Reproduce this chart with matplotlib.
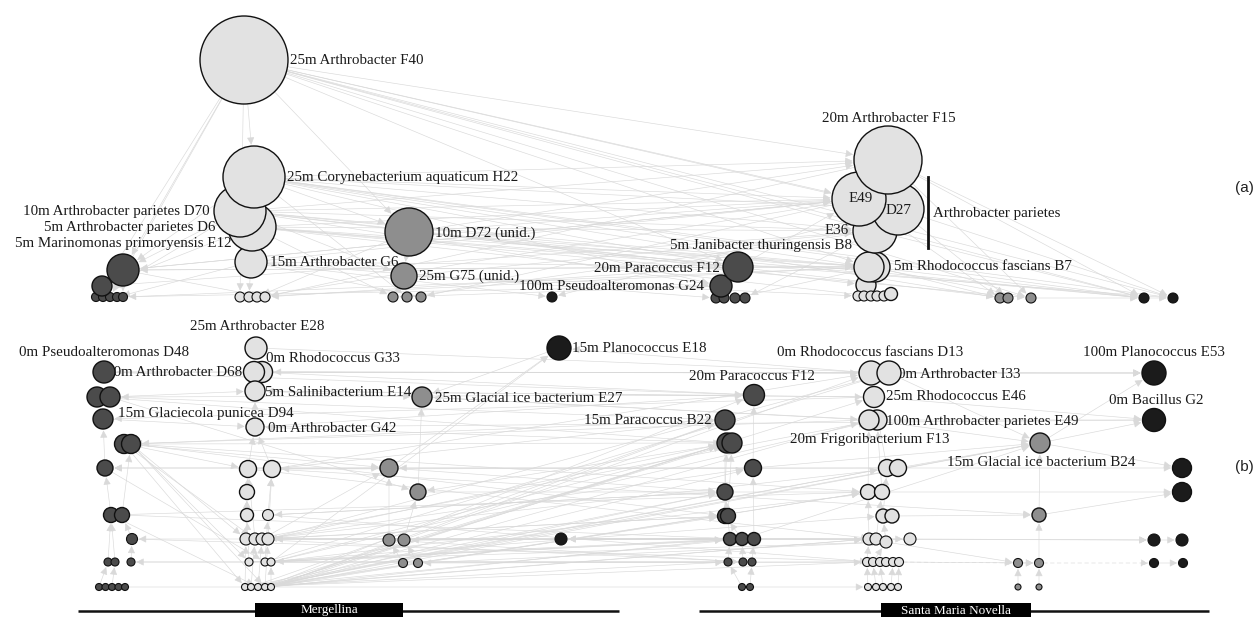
import matplotlib
matplotlib.use("Agg")
import matplotlib.pyplot as plt
from matplotlib.patches import Circle, FancyArrowPatch, Rectangle

# ---------------------------------------------------------------------------
# Node tables (pixel layout of the network, y grows downwards)
# Prefix: a = panel (a), upper-case; panel (b) lower-case.
# M = Mergellina, S = Santa Maria Novella; A/L = Actinobacteria,
# P = Proteobacteria, U = unidentified/other, F = Firmicutes
# ---------------------------------------------------------------------------

# ---- panel (a) ----
aMA_x = [240, 249, 257, 265, 251, 252, 240, 254, 244]
aMA_y = [297, 297, 297, 297, 262, 227, 211, 177, 60]
aMA_r = [5, 5, 5, 5, 16, 24, 26, 31, 44]

aMP_x = [96, 103, 110, 117, 123, 102, 123]
aMP_y = [297, 297, 297, 297, 297, 286, 270]
aMP_r = [4.5, 4.5, 4.5, 4.5, 4.5, 10, 16]

aMU_x = [393, 407, 421, 404, 409]
aMU_y = [297, 297, 297, 276, 232]
aMU_r = [5, 5, 5, 13, 24]

aMF_x = [552]
aMF_y = [297]
aMF_r = [5]

aSP_x = [716, 724, 735, 745, 721, 738]
aSP_y = [298, 298, 298, 298, 286, 267]
aSP_r = [5, 5, 5, 5, 11, 15]

aSA_x = [866, 858, 864, 871, 877, 884, 891, 875, 869, 875, 898, 859, 888]
aSA_y = [285, 296, 296, 296, 296, 296, 294, 267, 267, 231, 209, 199, 160]
aSA_r = [10, 5, 5, 5, 5, 5, 6.5, 15, 15, 22, 26, 27, 34]

aSU_x = [1000, 1008, 1031]
aSU_y = [298, 298, 298]
aSU_r = [5, 5, 5]

aSF_x = [1144, 1173]
aSF_y = [298, 298]
aSF_r = [5, 5]

# ---- panel (b) ----
mp_x = [104, 97, 110, 103, 124, 131, 105, 111, 122, 132, 108, 115, 131, 99, 105.5, 112, 118.5, 125]
mp_y = [372, 397, 397, 419, 444, 444, 468, 515, 515, 539, 562, 562, 562, 587, 587, 587, 587, 587]
mp_r = [11, 10, 10, 10, 9.5, 9.5, 8, 7.5, 7.5, 5.5, 4, 4, 4, 3.5, 3.5, 3.5, 3.5, 3.5]

ml_x = [256, 262, 254, 255, 255, 248, 272, 247, 247, 268, 246, 255, 262, 268, 249, 265, 271,
        245, 251, 258, 265, 271]
ml_y = [348, 372, 372, 391, 427, 469, 469, 492, 515, 515, 539, 539, 539, 539, 562, 562, 562,
        587, 587, 587, 587, 587]
ml_r = [11, 10.5, 10.5, 10, 9, 8.5, 8.5, 7.5, 6.5, 5.5, 6, 6, 6, 6, 4, 4, 4,
        3.5, 3.5, 3.5, 3.5, 3.5]

mu_x = [422, 389, 418, 389, 404, 403, 418]
mu_y = [397, 468, 492, 540, 540, 563, 563]
mu_r = [10, 9, 8, 6, 6, 4.5, 4.5]

mf_x = [559, 561]
mf_y = [348, 539]
mf_r = [12, 6]

sp_x = [754, 725, 727, 732, 753, 725, 725, 728, 730, 742, 754, 728, 743, 752, 742, 750]
sp_y = [395, 420, 443, 443, 468, 492, 516, 516, 539, 539, 539, 562, 562, 562, 587, 587]
sp_r = [10.5, 10, 10, 10, 8.5, 8, 7.5, 7.5, 6.5, 6.5, 6.5, 4, 4, 4, 3.5, 3.5]

sl_x = [871, 889, 874, 877, 869, 887, 898, 868, 882, 883, 892, 869, 876, 886, 910,
        867, 873, 880, 886, 893, 899, 868, 876, 883, 891, 898]
sl_y = [373, 373, 397, 420, 420, 468, 468, 492, 492, 516, 516, 539, 539, 542, 539,
        562, 562, 562, 562, 562, 562, 587, 587, 587, 587, 587]
sl_r = [12, 12, 10.5, 10, 10, 8.5, 8.5, 7.5, 7.5, 7, 7, 6, 6, 6, 6,
        4.5, 4.5, 4.5, 4.5, 4.5, 4.5, 3.5, 3.5, 3.5, 3.5, 3.5]

su_x = [1040, 1039, 1018, 1039, 1018, 1039]
su_y = [443, 515, 563, 563, 587, 587]
su_r = [10, 7, 4.5, 4.5, 3, 3]

sf_x = [1154, 1154, 1182, 1182, 1154, 1182, 1154, 1183]
sf_y = [373, 420, 468, 492, 540, 540, 563, 563]
sf_r = [12, 11.5, 9.5, 9.5, 6, 6, 4.5, 4.5]

# ---- directed edges (source>target) ----
a_edges = [
    "aMA8>aMA7", "aMA8>aMP6", "aMA8>aMP5", "aMA8>aMP2", "aMA8>aSA12", "aMA8>aSA11", "aMA8>aSA10",
    "aMA8>aSF0", "aMA8>aSF1", "aMA8>aSU2", "aMA8>aMU4", "aMA8>aSA8", "aMA8>aMA0", "aMA8>aSP5",
    "aMA8>aSA9",
    "aMA7>aSA11", "aMA7>aSA12", "aMA7>aSA9", "aMA7>aSF1", "aMA7>aSF0", "aMA7>aSU0", "aMA7>aMU4",
    "aMA7>aSP5", "aMA7>aMP6", "aMA7>aSA8", "aMA7>aMU1", "aMA7>aSA10", "aMA7>aSP4",
    "aMA6>aSA11", "aMA6>aSA9", "aMA6>aSP4", "aMA6>aSU1", "aMA6>aSF0", "aMA6>aMP6", "aMA6>aMP0",
    "aMA6>aMU3", "aMA6>aSA0", "aMA6>aSA12", "aMA6>aSA8",
    "aMA5>aSA9", "aMA5>aSA8", "aMA5>aSP5", "aMA5>aSU2", "aMA5>aMP5", "aMA5>aMU0", "aMA5>aSA3",
    "aMA5>aSA11", "aMA5>aSF1",
    "aMA4>aMA1", "aMA4>aSA7", "aMA4>aSP0", "aMA4>aMU2", "aMA4>aMF0", "aMA4>aMP3", "aMA4>aSA11",
    "aMU4>aMU3", "aMU4>aSA11", "aMU4>aSA12", "aMU4>aSP5", "aMU4>aSA8", "aMU4>aMA2", "aMU4>aSF0",
    "aMU3>aSP4", "aMU3>aMU1", "aMU3>aSA1", "aMU3>aSA9",
    "aMP6>aMP4", "aMP6>aSA11", "aMP6>aMA3", "aMP5>aMP1", "aMP6>aSA8",
    "aSA12>aSF1", "aSA12>aSF0", "aSA12>aSU2", "aSA12>aMA3", "aSA11>aSU0", "aSA11>aMA2",
    "aSA11>aMU2", "aSA11>aMP6", "aSA10>aSF1", "aSA10>aSU1", "aSA10>aMF0", "aSA9>aSF0",
    "aSA9>aMU1", "aSA9>aMP5", "aSA9>aSP3", "aSA8>aSU2", "aSA8>aMA1", "aSA8>aSF0", "aSA7>aSU0",
    "aSA7>aMP4", "aSA7>aSP2",
    "aSP5>aSP1", "aSP5>aMA3", "aSP5>aMP6", "aSP5>aSA8", "aSP4>aSP0", "aSP4>aMU0", "aSP4>aMP2",
    "aSP5>aSA11",
    "aSU0>aSU1", "aSU2>aSF0", "aSF0>aSF1",
]

b_edges = [
    # within-site columns
    "ml17>ml10", "ml18>ml11", "ml19>ml12", "ml20>ml13", "ml21>ml16", "ml14>ml8", "ml15>ml9",
    "ml10>ml7", "ml8>ml7", "ml11>ml5", "ml13>ml6", "ml7>ml5", "ml5>ml4", "ml6>ml4", "ml4>ml3",
    "ml3>ml2", "ml2>ml0", "ml9>ml6",
    "mp13>mp10", "mp15>mp11", "mp10>mp7", "mp7>mp6", "mp6>mp3", "mp12>mp9", "mp9>mp8",
    "mp8>mp5", "mp3>mp1", "mp11>mp7",
    "mu5>mu3", "mu6>mu4", "mu3>mu1", "mu4>mu2", "mu2>mu0",
    # Mergellina Actinobacteria towards Santa Maria Novella
    "ml21>sp1", "ml21>sp2", "ml21>sp4", "ml21>sl0", "ml21>sl4", "ml21>sp8", "ml21>sl7", "ml21>su0",
    "ml20>sp5", "ml20>sl2", "ml20>sl7", "ml20>sp0", "ml20>sl11", "ml20>sp3",
    "ml19>sp6", "ml19>sl11", "ml19>su0", "ml19>sl5", "ml19>sp2",
    "ml18>sp9", "ml18>sl5", "ml18>sp1", "ml17>sp11", "ml17>sl15", "ml17>sp5",
    "ml16>sp3", "ml16>sl8", "ml16>sp10", "ml16>sl3", "ml16>mf0",
    "ml15>sl9", "ml15>sp12", "ml15>sl1", "ml14>sl13", "ml14>sp8",
    "ml13>sp2", "ml13>sl1", "ml13>sl12", "ml12>sp4", "ml12>mu1", "ml12>sl6", "ml11>sl3",
    "ml11>sp7", "ml10>sp13", "ml10>sl14",
    "ml9>sl16", "ml9>sp5", "ml6>sl0", "ml6>sp1", "ml6>su1", "ml5>mu1", "ml5>sl12", "ml4>sp0",
    "ml4>sf1", "ml3>mu0", "ml3>sl2", "ml1>sl0", "ml1>sf0", "ml0>sl1",
    # Mergellina Proteobacteria
    "mp4>ml5", "mp5>ml10", "mp5>ml14", "mp5>sp3", "mp5>sl7", "mp5>sp6", "mp4>mu1", "mp4>ml11",
    "mp2>ml3", "mp2>sp1", "mp0>ml2", "mp3>ml4", "mp6>ml15", "mp8>sp9", "mp9>sl18", "mp12>sp12",
    "mp16>sl21", "mp5>ml20", "mp4>ml17", "mp7>ml19", "mp2>mu2", "mp0>sp0",
    # links pointing back to Mergellina
    "sl0>mp0", "sp0>mp2", "sl2>mp3", "sp1>mp5", "sl4>mp4", "sp4>mp6", "sl7>mp7", "sp8>mp9",
    "sl15>mp12", "mu1>mp6", "sp2>mp1",
    "sp0>ml2", "sl0>ml1", "sl2>ml3", "sp2>ml4", "sl5>ml6", "sp5>ml9", "sl11>ml13", "mf1>ml13",
    "sp9>ml16", "sp6>ml12",
    "sl3>mu0", "sp3>mu2", "sl6>mu1", "sp10>mu4", "sl20>mu6", "mu1>mf0", "sl0>mf0", "sl14>mf1",
    "sp9>mf1", "mf0>mu0",
    # within Santa Maria Novella
    "sl21>sl15", "sl22>sl16", "sl23>sl17", "sl24>sl19", "sl25>sl20", "sl15>sl11", "sl11>sl7",
    "sl7>sl4", "sl9>sl5", "sl5>sl2", "sl12>sl8", "sl13>sl9", "sl16>sl13", "sl8>sl3", "sl2>sl0",
    "sp14>sp11", "sp15>sp13", "sp11>sp8", "sp8>sp5", "sp5>sp2", "sp9>sp6", "sp12>sp9",
    "sp13>sp10", "sp10>sp4", "sp4>sp0", "sp6>sp1", "sp7>sp3",
    "su4>su2", "su5>su3", "su3>su1", "su1>su0",
    "sl0>sf0", "sl1>sf0", "sl2>sf1", "sl4>sf1", "su0>sf1", "sl6>sf2", "sl8>sf3", "su0>sf2",
    "sl14>sf4", "sp10>sf4", "su1>sf3", "su0>sf0", "sf4>sf5", "sf6>sf7", "su2>su3",
    "sl4>su0", "sl10>su1", "sl13>su2", "sp9>su0", "sl6>su0", "sl19>su3", "sp4>su0", "sl1>su0",
    "mu1>sp5", "mu2>sl8", "mu0>sl4", "mu4>sp9", "mu3>sp12", "mu6>sl13", "mf1>sp10",
]
b_dashed = ["su3>sf6", "sl20>su2"]

# ---- node labels: text, anchor x, anchor y, alignment ----
a_labels = [
    ("25m Arthrobacter F40", 290, 60, "left"),
    ("25m Corynebacterium aquaticum H22", 287, 178, "left"),
    ("10m Arthrobacter parietes D70", 210, 211, "right"),
    ("5m Arthrobacter parietes D6", 44, 227, "left"),
    ("5m Marinomonas primoryensis E12", 15, 243, "left"),
    ("15m Arthrobacter G6", 270, 262, "left"),
    ("10m D72 (unid.)", 435, 233, "left"),
    ("25m G75 (unid.)", 419, 276, "left"),
    ("20m Paracoccus F12", 720, 268, "right"),
    ("100m Pseudoalteromonas G24", 519, 287, "left"),
    ("5m Janibacter thuringensis B8", 670, 246, "left"),
    ("20m Arthrobacter F15", 889, 118, "center"),
    ("E36", 849, 230, "right"),
    ("Arthrobacter parietes", 933, 213, "left"),
    ("5m Rhodococcus fascians B7", 894, 267, "left"),
]
a_inner_labels = [("E49", 861, 199), ("D27", 898, 210)]

b_labels = [
    ("25m Arthrobacter E28", 257, 327, "center"),
    ("0m Pseudoalteromonas D48", 19, 353, "left"),
    ("0m Rhodococcus G33", 266, 358, "left"),
    ("10m Arthrobacter D68", 106, 373, "left"),
    ("5m Salinibacterium E14", 265, 393, "left"),
    ("25m Glacial ice bacterium E27", 435, 399, "left"),
    ("15m Glaciecola punicea D94", 118, 414, "left"),
    ("0m Arthrobacter G42", 268, 429, "left"),
    ("15m Planococcus E18", 572, 349, "left"),
    ("0m Rhodococcus fascians D13", 870, 352, "center"),
    ("0m Arthrobacter I33", 898, 374, "left"),
    ("20m Paracoccus F12", 752, 377, "center"),
    ("25m Rhodococcus E46", 886, 397, "left"),
    ("100m Arthrobacter parietes E49", 886, 421, "left"),
    ("20m Frigoribacterium F13", 870, 440, "center"),
    ("15m Glacial ice bacterium B24", 1041, 463, "center"),
    ("15m Paracoccus B22", 712, 420, "right"),
    ("100m Planococcus E53", 1154, 353, "center"),
    ("0m Bacillus G2", 1156, 401, "center"),
]

sites = ["Mergellina", "Santa Maria Novella"]
site_line = [(78, 619), (699, 1209)]
site_box = [(255, 403), (881, 1031)]

# ---------------------------------------------------------------------------
FILL = {"act": "#e2e2e2", "pro": "#4b4b4b", "unid": "#8e8e8e", "fir": "#1b1b1b"}
SERIF = ["Liberation Serif", "DejaVu Serif"]
PT = 0.72  # points per pixel at dpi=100

clusters = [
    ("aMA", "act", aMA_x, aMA_y, aMA_r), ("aMP", "pro", aMP_x, aMP_y, aMP_r),
    ("aMU", "unid", aMU_x, aMU_y, aMU_r), ("aMF", "fir", aMF_x, aMF_y, aMF_r),
    ("aSP", "pro", aSP_x, aSP_y, aSP_r), ("aSA", "act", aSA_x, aSA_y, aSA_r),
    ("aSU", "unid", aSU_x, aSU_y, aSU_r), ("aSF", "fir", aSF_x, aSF_y, aSF_r),
    ("mp", "pro", mp_x, mp_y, mp_r), ("ml", "act", ml_x, ml_y, ml_r),
    ("mu", "unid", mu_x, mu_y, mu_r), ("mf", "fir", mf_x, mf_y, mf_r),
    ("sp", "pro", sp_x, sp_y, sp_r), ("sl", "act", sl_x, sl_y, sl_r),
    ("su", "unid", su_x, su_y, su_r), ("sf", "fir", sf_x, sf_y, sf_r),
]
nodes = {}
for prefix, grp, xs, ys, rs in clusters:
    for i, (x, y, r) in enumerate(zip(xs, ys, rs)):
        nodes[f"{prefix}{i}"] = (x, y, r, grp)

fig = plt.figure(figsize=(12.59, 6.17), dpi=100)
ax = fig.add_axes([0, 0, 1, 1])
ax.set_xlim(0, 1259)
ax.set_ylim(617, 0)
ax.axis("off")


def draw_edge(spec, dashed=False):
    s, t = spec.split(">")
    x1, y1, r1, _ = nodes[s]
    x2, y2, r2, _ = nodes[t]
    arr = FancyArrowPatch((x1, y1), (x2, y2),
                          arrowstyle="-|>,head_length=0.5,head_width=0.25",
                          mutation_scale=9, shrinkA=r1 * PT, shrinkB=r2 * PT + 1,
                          lw=0.45, color="#d9d9d9",
                          linestyle=(0, (6, 5)) if dashed else "-", zorder=1)
    ax.add_patch(arr)


for e in a_edges + b_edges:
    draw_edge(e)
for e in b_dashed:
    draw_edge(e, dashed=True)

for prefix, grp, xs, ys, rs in clusters:
    for x, y, r in zip(xs, ys, rs):
        ax.add_patch(Circle((x, y), r, facecolor=FILL[grp], edgecolor="#111111",
                            lw=1.0 if r > 6 else 0.8, zorder=3))

for text, x, y, ha in a_labels + b_labels:
    ax.text(x, y, text, ha=ha, va="center", fontsize=10.8, family=SERIF,
            color="#1a1a1a", zorder=2)
for text, x, y in a_inner_labels:
    ax.text(x, y, text, ha="center", va="center", fontsize=10.8, family=SERIF,
            color="#1a1a1a", zorder=4)

# bracket grouping the Arthrobacter parietes isolates
ax.plot([928, 928], [177, 248], color="#111111", lw=2, zorder=2)

ax.text(1254, 188, "(a)", ha="right", va="center", fontsize=11,
        family=["Liberation Sans", "DejaVu Sans"], color="#222222")
ax.text(1254, 467, "(b)", ha="right", va="center", fontsize=11,
        family=["Liberation Sans", "DejaVu Sans"], color="#222222")

for name, (l0, l1), (b0, b1) in zip(sites, site_line, site_box):
    ax.plot([l0, l1], [611, 611], color="#111111", lw=1.8, solid_capstyle="butt", zorder=2)
    ax.add_patch(Rectangle((b0, 603), b1 - b0, 16, facecolor="black", edgecolor="none", zorder=3))
    ax.text((b0 + b1) / 2, 610.5, name, ha="center", va="center", fontsize=9.5,
            family=SERIF, color="white", zorder=4)

fig.savefig("out.png", dpi=100, facecolor="white")
